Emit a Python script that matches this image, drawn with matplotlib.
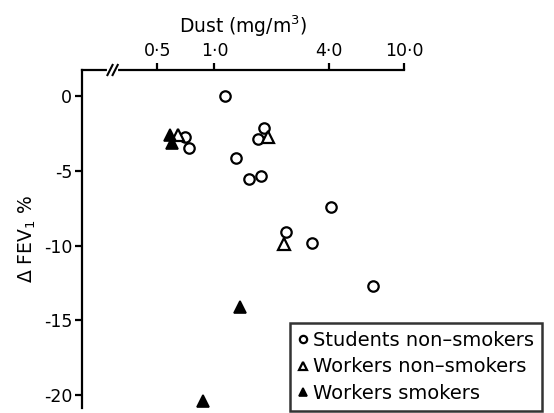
import matplotlib
matplotlib.use('Agg')
import matplotlib.pyplot as plt
import numpy as np

# Dust (mg/m3) vs change in FEV1 (%)
stud_dust = [1.14, 0.70, 0.73, 1.82, 1.69, 1.30, 1.52, 1.77, 4.14, 2.39, 3.26, 6.88]
stud_fev = [0.0, -2.76, -3.46, -2.16, -2.9, -4.14, -5.57, -5.35, -7.42, -9.07, -9.85, -12.68]

wns_dust = [0.64, 1.91, 2.33]
wns_fev = [-2.6, -2.76, -9.92]

ws_dust = [0.585, 0.597, 1.36, 0.87]
ws_fev = [-2.6, -3.16, -14.1, -20.37]

xticks = [0.5, 1.0, 4.0, 10.0]
xticklabels = ['0·5', '1·0', '4·0', '10·0']
yticks = [0, -5, -10, -15, -20]
yticklabels = ['0', '-5', '-10', '-15', '-20']

plt.rcParams['font.family'] = ['DejaVu Sans']

fig = plt.figure(figsize=(5.54, 4.13), dpi=100)
ax = fig.add_axes([82/554, 1-408/413, 322/554, (408-70)/413])

ax.plot(stud_dust, stud_fev, 'o', ms=7.5, mfc='white', mec='black', mew=1.6,
        label='Students non\u2013smokers')
ax.plot(wns_dust, wns_fev, '^', ms=8, mfc='white', mec='black', mew=1.6,
        label='Workers non\u2013smokers')
ax.plot(ws_dust, ws_fev, '^', ms=8, mfc='black', mec='black', mew=1.2,
        label='Workers smokers')

ax.set_xscale('log')
ax.set_xlim(0.2, 10.0)
ax.set_ylim(-20.85, 1.74)

ax.spines['right'].set_visible(False)
ax.spines['bottom'].set_visible(False)
for s in ['left', 'top']:
    ax.spines[s].set_linewidth(1.6)

ax.xaxis.set_ticks_position('top')
ax.xaxis.set_label_position('top')
ax.set_xticks(xticks)
ax.set_xticklabels(xticklabels)
ax.xaxis.set_minor_locator(matplotlib.ticker.NullLocator())
ax.set_yticks(yticks)
ax.set_yticklabels(yticklabels)
ax.tick_params(axis='both', direction='out', length=5, width=1.6, labelsize=12.5)
ax.tick_params(axis='x', pad=2)
ax.tick_params(axis='y', pad=2)

ax.set_xlabel('Dust (mg/m$^3$)', fontsize=13.5, labelpad=7)
ax.set_ylabel('$\\Delta$ FEV$_1$ %', fontsize=13.5, labelpad=4)

# axis break on the dust scale
bx = (np.log10(0.29) - np.log10(0.2)) / (np.log10(10) - np.log10(0.2))
ax.plot([bx - 0.012, bx + 0.012], [1, 1], color='white', lw=3,
        transform=ax.transAxes, clip_on=False, zorder=5)
for d in [-0.008, 0.008]:
    ax.plot([bx + d - 0.008, bx + d + 0.008], [0.985, 1.015], color='black', lw=1.5,
            transform=ax.transAxes, clip_on=False, zorder=6)

leg = ax.legend(loc='lower left', bbox_to_anchor=(288/554, 0.0), bbox_transform=fig.transFigure,
                fontsize=14, frameon=True, fancybox=False, handlelength=0.5,
                handletextpad=0.3, borderpad=0.4, labelspacing=0.4, markerscale=0.7,
                borderaxespad=0.1)
leg.get_frame().set_edgecolor('black')
leg.get_frame().set_linewidth(1.8)

fig.savefig('out.png', dpi=100)
